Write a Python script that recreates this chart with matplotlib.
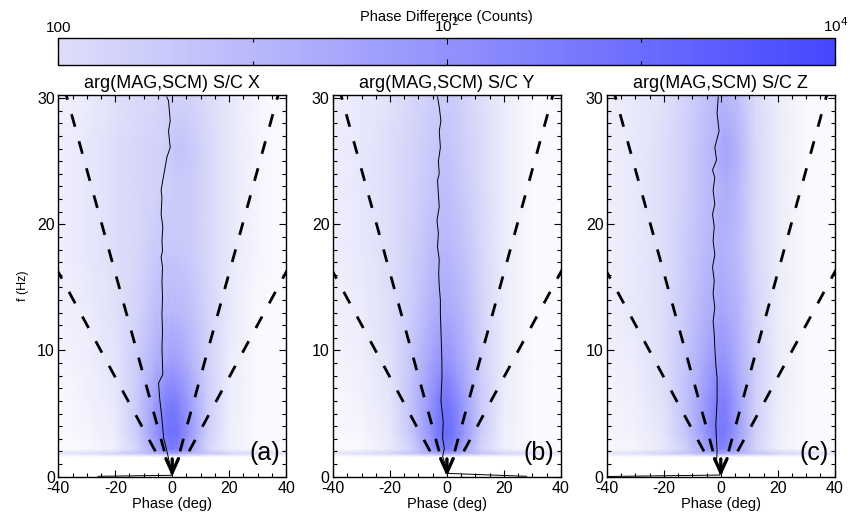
import numpy as np
import matplotlib
matplotlib.use("Agg")
import matplotlib.pyplot as plt
from matplotlib.colors import LinearSegmentedColormap, Normalize, LogNorm
from matplotlib.colorbar import ColorbarBase
from matplotlib.ticker import MultipleLocator, FixedLocator, NullFormatter

plt.rcParams["font.family"] = ["Liberation Sans", "DejaVu Sans"]
plt.rcParams["axes.unicode_minus"] = False

# ---------------- data ----------------
titles = ["arg(MAG,SCM) S/C X", "arg(MAG,SCM) S/C Y", "arg(MAG,SCM) S/C Z"]
panel_tags = ["(a)", "(b)", "(c)"]

# grid of the 2D histogram (log10 counts), read by eye
phase_grid = [-40, -30, -20, -12, -6, -2, 0, 2, 6, 12, 20, 30, 40]
freq_grid = [0, 1.55, 1.85, 2.2, 3.5, 6, 9, 13, 18, 23, 26, 30.3]

counts_x = [
    [-1.0] * 13,
    [-1.0] * 13,
    [-0.2, 0.0, 0.3, 0.7, 1.1, 1.4, 1.5, 1.4, 1.1, 0.7, 0.3, 0.0, -0.2],
    [-0.9, -0.8, -0.5, 0.3, 1.5, 2.4, 2.6, 2.4, 1.5, 0.3, -0.5, -0.8, -0.9],
    [-0.8, -0.7, -0.4, 0.6, 1.9, 2.8, 2.9, 2.8, 1.9, 0.5, -0.5, -0.8, -0.9],
    [-0.8, -0.6, -0.3, 0.6, 1.7, 2.5, 2.6, 2.4, 1.7, 0.5, -0.4, -0.8, -0.9],
    [-0.7, -0.5, -0.2, 0.5, 1.2, 1.6, 1.7, 1.6, 1.2, 0.4, -0.4, -0.8, -0.9],
    [-0.6, -0.4, -0.1, 0.3, 0.8, 1.0, 1.0, 1.0, 0.8, 0.3, -0.3, -0.8, -0.9],
    [-0.5, -0.3, 0.0, 0.2, 0.5, 0.6, 0.6, 0.6, 0.5, 0.2, -0.3, -0.7, -0.9],
    [-0.5, -0.3, 0.0, 0.2, 0.3, 0.4, 0.4, 0.5, 0.5, 0.2, -0.3, -0.7, -0.9],
    [-0.5, -0.3, 0.0, 0.2, 0.3, 0.4, 0.6, 0.7, 0.6, 0.2, -0.3, -0.7, -0.9],
    [-0.6, -0.4, -0.1, 0.1, 0.2, 0.3, 0.3, 0.3, 0.3, 0.1, -0.3, -0.7, -0.9],
]
counts_y = [
    [-1.0] * 13,
    [-1.0] * 13,
    [-0.2, 0.0, 0.3, 0.7, 1.1, 1.5, 1.6, 1.5, 1.1, 0.7, 0.3, 0.0, -0.2],
    [-0.9, -0.8, -0.4, 0.4, 1.6, 2.5, 2.7, 2.4, 1.5, 0.3, -0.5, -0.8, -0.9],
    [-0.8, -0.7, -0.3, 0.7, 2.0, 2.9, 3.0, 2.8, 1.9, 0.5, -0.5, -0.8, -0.9],
    [-0.8, -0.6, -0.2, 0.8, 1.9, 2.7, 2.8, 2.5, 1.7, 0.5, -0.4, -0.8, -0.9],
    [-0.7, -0.5, -0.1, 0.7, 1.5, 2.0, 2.0, 1.8, 1.3, 0.4, -0.4, -0.8, -0.9],
    [-0.6, -0.4, 0.0, 0.5, 1.1, 1.4, 1.4, 1.3, 1.0, 0.3, -0.4, -0.8, -0.9],
    [-0.5, -0.3, 0.0, 0.4, 0.8, 1.0, 1.0, 0.9, 0.7, 0.2, -0.4, -0.8, -0.9],
    [-0.5, -0.3, 0.0, 0.3, 0.6, 0.8, 0.8, 0.7, 0.5, 0.1, -0.4, -0.8, -0.9],
    [-0.5, -0.3, 0.0, 0.3, 0.5, 0.7, 0.7, 0.6, 0.4, 0.1, -0.4, -0.8, -0.9],
    [-0.5, -0.3, -0.1, 0.2, 0.4, 0.5, 0.5, 0.5, 0.3, 0.0, -0.4, -0.8, -0.9],
]
counts_z = [
    [-1.0] * 13,
    [-1.0] * 13,
    [-0.2, 0.0, 0.3, 0.7, 1.1, 1.4, 1.5, 1.4, 1.1, 0.7, 0.3, 0.0, -0.2],
    [-0.8, -0.7, -0.3, 0.4, 1.4, 2.2, 2.4, 2.2, 1.4, 0.3, -0.5, -0.8, -0.9],
    [-0.7, -0.6, -0.2, 0.7, 1.8, 2.6, 2.7, 2.6, 1.7, 0.4, -0.5, -0.8, -0.9],
    [-0.7, -0.5, -0.1, 0.8, 1.7, 2.4, 2.5, 2.4, 1.6, 0.4, -0.4, -0.8, -0.9],
    [-0.6, -0.4, 0.0, 0.7, 1.4, 1.9, 2.0, 1.9, 1.3, 0.4, -0.4, -0.8, -0.9],
    [-0.5, -0.3, 0.0, 0.6, 1.1, 1.4, 1.5, 1.4, 1.1, 0.3, -0.4, -0.8, -0.9],
    [-0.5, -0.3, 0.0, 0.5, 0.9, 1.1, 1.2, 1.1, 0.9, 0.2, -0.4, -0.8, -0.9],
    [-0.5, -0.3, 0.0, 0.4, 0.8, 1.0, 1.2, 1.3, 1.0, 0.2, -0.4, -0.8, -0.9],
    [-0.5, -0.3, 0.0, 0.4, 0.8, 1.1, 1.4, 1.5, 1.1, 0.2, -0.4, -0.8, -0.9],
    [-0.5, -0.3, -0.1, 0.3, 0.7, 0.9, 1.0, 1.0, 0.8, 0.1, -0.4, -0.8, -0.9],
]

# mean phase vs frequency (thin black curve), top -> bottom, incl. low-f tail
mean_freq_x = [30.1, 29.8, 28.2, 27.4, 26.1, 25.3, 24.5, 23.5, 22.7, 22.1, 20.8,
               19.8, 18.7, 17.9, 17.4, 16.6, 15.5, 14.2, 12.9, 11.5, 10.2, 8.9,
               8.1, 7.4, 6.2, 4.6, 3.05, 2.25, 1.45, 0.66, 0.1, 0.02]
mean_phase_x = [-1.9, -1.3, -0.7, -1.3, -0.7, -1.9, -2.5, -3.3, -3.9, -3.6, -3.9,
                -3.3, -3.6, -3.4, -3.9, -3.4, -3.6, -3.4, -3.6, -3.4, -3.6, -3.4,
                -3.3, -4.8, -4.4, -3.6, -3.0, -2.1, -1.3, -0.5, -0.3, -26.0]

mean_freq_y = [30.1, 29.3, 28.2, 27.4, 26.1, 25.0, 24.0, 23.5, 22.4, 21.4, 20.3,
               19.3, 18.2, 17.2, 16.1, 15.1, 14.0, 12.9, 11.6, 10.2, 8.9, 7.8,
               6.0, 4.4, 3.05, 2.25, 1.6, 1.06, 0.4, 0.25, 0.02]
mean_phase_y = [-3.3, -2.7, -2.1, -2.7, -2.3, -3.0, -2.7, -3.3, -3.0, -2.7, -3.5,
                -3.0, -3.3, -2.7, -2.9, -2.7, -2.3, -2.3, -2.1, -1.9, -1.75, -1.75,
                -2.1, -1.3, -1.5, -0.9, -1.5, -0.7, -0.1, 0.3, 28.0]

mean_freq_z = [30.1, 28.8, 27.4, 26.1, 25.1, 24.3, 23.7, 22.7, 21.6, 20.8, 19.8,
               18.7, 17.6, 16.6, 15.5, 14.5, 13.4, 12.3, 11.3, 10.2, 8.9, 7.8,
               6.0, 4.1, 2.8, 2.0, 1.2, 0.4, 0.12, 0.0]
mean_phase_z = [-0.9, -1.3, -0.6, -2.1, -1.5, -2.9, -2.1, -2.7, -2.1, -2.9, -2.3,
                -2.7, -2.1, -2.9, -2.3, -2.7, -2.1, -2.7, -2.3, -2.1, -1.75, -1.3,
                -1.3, -1.75, -1.5, -1.3, -1.5, -0.35, -0.3, -42.0]

# dashed guide lines: phase = +/-(slope * f + offset), starting at guide_f0
guide_slopes = [1.22, 2.4]
guide_offsets = [0.3, 1.1]
guide_f0 = 2.0
guide_f1 = 31.0

tag_phase, tag_freq = 37.8, 1.3
arrow_phase = 0.0

counts = [counts_x, counts_y, counts_z]
mean_f = [mean_freq_x, mean_freq_y, mean_freq_z]
mean_p = [mean_phase_x, mean_phase_y, mean_phase_z]

# ---------------- colours ----------------
lav, blu = "#dedefa", "#4646ff"
heat_cmap = LinearSegmentedColormap.from_list("ph", [(0.0, "white"), (0.2, lav), (1.0, blu)])
cb_cmap = LinearSegmentedColormap.from_list("phcb", [lav, blu])
heat_norm = Normalize(-1, 4)

# ---------------- figure ----------------
fig = plt.figure(figsize=(8.5, 5.18), dpi=100)

lefts = [0.0686, 0.3918, 0.714]
for i in range(3):
    ax = fig.add_axes([lefts[i], 0.080, 0.268, 0.7365])
    Z = np.array(counts[i])
    ax.pcolormesh(phase_grid, freq_grid, Z, shading="gouraud",
                  cmap=heat_cmap, norm=heat_norm, rasterized=True)

    fg = np.array([guide_f0, guide_f1])
    for s, o in zip(guide_slopes, guide_offsets):
        for sign in (-1, 1):
            ax.plot(sign * (s * fg + o), fg, color="k", lw=2.0,
                    linestyle=(0, (4.7, 5.4)), solid_capstyle="butt")

    ax.plot(mean_p[i], mean_f[i], color="k", lw=0.7)
    ax.annotate("", xy=(arrow_phase, 0.0), xytext=(arrow_phase, 1.4),
                arrowprops=dict(arrowstyle="->,head_length=1.0,head_width=0.45",
                                lw=2.4, color="k", shrinkA=0, shrinkB=0),
                annotation_clip=False)

    ax.text(tag_phase, tag_freq, panel_tags[i], ha="right", va="baseline", fontsize=18)

    ax.set_xlim(-40, 40)
    ax.set_ylim(0, 30.25)
    ax.set_xticks([-40, -20, 0, 20, 40])
    ax.set_yticks([0, 10, 20, 30])
    ax.xaxis.set_minor_locator(MultipleLocator(5))
    ax.yaxis.set_minor_locator(MultipleLocator(1))
    ax.tick_params(which="both", direction="in", top=True, right=True,
                   labelsize=11.5, pad=2.5, width=0.8)
    ax.tick_params(axis="x", pad=3.5)
    ax.tick_params(which="major", length=5)
    ax.tick_params(which="minor", length=3)
    for sp in ax.spines.values():
        sp.set_linewidth(1.0)
    ax.set_xlabel("Phase (deg)", fontsize=10.5, labelpad=0.5)
    ax.set_title(titles[i], fontsize=13, pad=5)
    if i == 0:
        ax.set_ylabel("f (Hz)", fontsize=9, labelpad=6)

# colorbar
cax = fig.add_axes([0.0686, 0.8745, 0.914, 0.052])
cb = ColorbarBase(cax, cmap=cb_cmap, norm=LogNorm(1, 1e4), orientation="horizontal")
cb.outline.set_linewidth(1.0)
cax.xaxis.set_ticks_position("top")
cax.set_xticks([1, 100, 1e4])
cax.set_xticklabels(["100", "10$^2$", "10$^4$"])
cax.xaxis.set_minor_locator(FixedLocator([10, 1000]))
cax.xaxis.set_minor_formatter(NullFormatter())
cax.tick_params(which="both", direction="in", top=True, bottom=True,
                labeltop=True, labelbottom=False, labelsize=11, pad=2, width=0.8)
cax.tick_params(which="major", length=4)
cax.tick_params(which="minor", length=3)
fig.text(0.525, 0.967, "Phase Difference (Counts)", ha="center", va="center", fontsize=10.5)

fig.savefig("out.png", dpi=100)
